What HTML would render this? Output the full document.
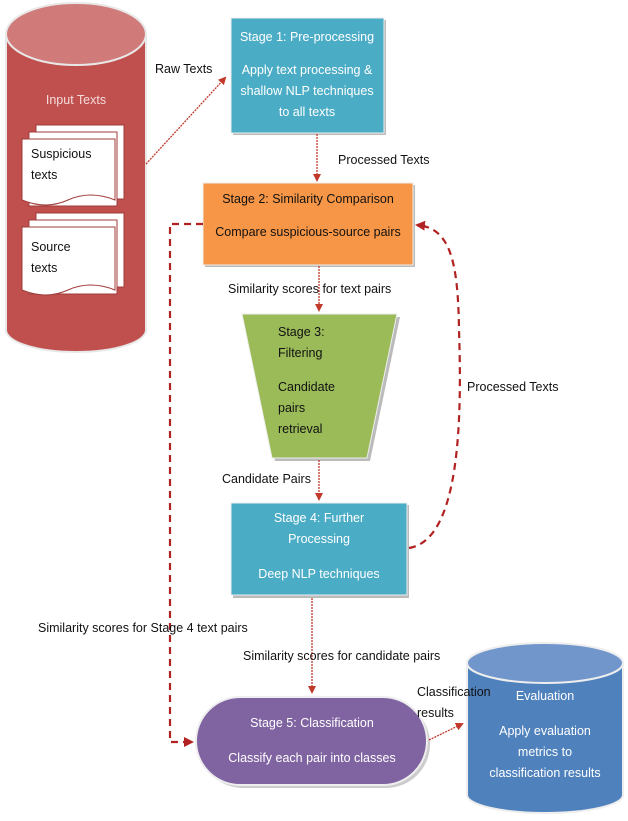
<!DOCTYPE html>
<html><head><meta charset="utf-8"><style>
body{margin:0;background:#fff}
svg text{font-family:"Liberation Sans",sans-serif;font-size:12.5px}
</style></head><body>
<svg width="628" height="816" viewBox="0 0 628 816" xmlns="http://www.w3.org/2000/svg">
<defs>
<marker id="a" markerWidth="8" markerHeight="8" refX="6" refY="4" orient="auto" markerUnits="userSpaceOnUse"><path d="M0,0 L8,4 L0,8 z" fill="#c0392b"/></marker>
<marker id="b" markerWidth="10" markerHeight="10" refX="8" refY="5" orient="auto" markerUnits="userSpaceOnUse"><path d="M0,0 L10,5 L0,10 z" fill="#b22222"/></marker>
</defs>
<path d="M6,34 L6,330 A70,22 0 0 0 146,330 L146,34 Z" fill="#c0504d" stroke="#e8e8e8" stroke-width="2"/>
<ellipse cx="76" cy="34" rx="70" ry="31" fill="#d07b7a" stroke="#e8e8e8" stroke-width="2"/>
<text x="76" y="104" fill="#f4dcdc" text-anchor="middle" font-size="13">Input Texts</text>
<g fill="#fff" stroke="#a03c3a" stroke-width="1">
<rect x="36" y="125" width="88" height="74"/>
<rect x="29" y="132" width="88" height="74"/>
<path d="M22,139 H115 V200 Q90,190 68,200 T22,200 Z"/>
<rect x="36" y="213" width="88" height="74"/>
<rect x="29" y="220" width="88" height="74"/>
<path d="M22,227 H115 V290 Q90,280 68,290 T22,290 Z"/>
</g>
<text x="31" y="158" fill="#111" font-size="13">Suspicious</text>
<text x="31" y="179" fill="#111" font-size="13">texts</text>
<text x="31" y="251" fill="#111" font-size="13">Source</text>
<text x="31" y="272" fill="#111" font-size="13">texts</text>
<rect x="233" y="20" width="153" height="115" fill="#bbb"/>
<rect x="231" y="18" width="153" height="115" fill="#4bacc6" stroke="#eee"/>
<g fill="#fff" text-anchor="middle"><text x="307" y="41">Stage 1: Pre-processing</text>
<text x="307" y="74">Apply text processing &amp;</text><text x="307" y="95">shallow NLP techniques</text><text x="307" y="116">to all texts</text></g>
<text x="155" y="73" fill="#111">Raw Texts</text>
<line x1="146" y1="164" x2="225" y2="78" stroke="#c0392b" stroke-width="1.3" stroke-dasharray="2,1" marker-end="url(#a)"/>
<rect x="205" y="185" width="210" height="82" fill="#bbb"/>
<rect x="203" y="183" width="210" height="82" fill="#f79646" stroke="#eee"/>
<g fill="#111" text-anchor="middle"><text x="308" y="203">Stage 2: Similarity Comparison</text><text x="308" y="236">Compare suspicious-source pairs</text></g>
<line x1="317" y1="134" x2="317" y2="180" stroke="#c0392b" stroke-width="1.3" stroke-dasharray="2,1" marker-end="url(#a)"/>
<text x="338" y="164" fill="#111">Processed Texts</text>
<path d="M245,317 L400,317 L370,461 L275,461 Z" fill="#bbb"/>
<path d="M242,314 L397,314 L367,458 L272,458 Z" fill="#9bbb59" stroke="#eee"/>
<g fill="#111"><text x="278" y="336">Stage 3:</text><text x="278" y="357">Filtering</text><text x="278" y="391">Candidate</text><text x="278" y="412">pairs</text><text x="278" y="433">retrieval</text></g>
<line x1="319" y1="266" x2="319" y2="310" stroke="#c0392b" stroke-width="1.3" stroke-dasharray="2,1" marker-end="url(#a)"/>
<text x="228" y="293" fill="#111">Similarity scores for text pairs</text>
<rect x="233" y="505" width="176" height="93" fill="#bbb"/>
<rect x="231" y="503" width="176" height="92" fill="#4bacc6" stroke="#eee"/>
<g fill="#fff" text-anchor="middle"><text x="319" y="522">Stage 4: Further</text><text x="319" y="543">Processing</text><text x="319" y="578">Deep NLP techniques</text></g>
<line x1="319" y1="460" x2="319" y2="499" stroke="#c0392b" stroke-width="1.3" stroke-dasharray="2,1" marker-end="url(#a)"/>
<text x="222" y="483" fill="#111">Candidate Pairs</text>
<path d="M409,548 C460,540 462,420 459,330 C458,260 450,228 417,225" fill="none" stroke="#b22222" stroke-width="2.2" stroke-dasharray="7,5" marker-end="url(#b)"/>
<text x="467" y="391" fill="#111">Processed Texts</text>
<path d="M203,224 H170 V742 H192" fill="none" stroke="#b22222" stroke-width="2.2" stroke-dasharray="7,5" marker-end="url(#b)"/>
<text x="38" y="632" fill="#111">Similarity scores for Stage 4 text pairs</text>
<rect x="199" y="700" width="231" height="88" rx="44" fill="#ccc"/>
<rect x="196" y="697" width="231" height="88" rx="44" fill="#8064a2" stroke="#eee" stroke-width="2"/>
<g fill="#fff" text-anchor="middle"><text x="312" y="727">Stage 5: Classification</text><text x="312" y="762">Classify each pair into classes</text></g>
<line x1="312" y1="598" x2="312" y2="692" stroke="#c0392b" stroke-width="1.3" stroke-dasharray="2,1" marker-end="url(#a)"/>
<text x="243" y="660" fill="#111">Similarity scores for candidate pairs</text>
<path d="M467,663 L467,795 A78,18 0 0 0 623,795 L623,663 Z" fill="#4f81bd" stroke="#eee" stroke-width="2"/>
<ellipse cx="545" cy="663" rx="78" ry="20" fill="#7096cc" stroke="#eee" stroke-width="2"/>
<g fill="#fff" text-anchor="middle"><text x="545" y="700">Evaluation</text><text x="545" y="735">Apply evaluation</text><text x="545" y="756">metrics to</text><text x="545" y="777">classification results</text></g>
<line x1="429" y1="740" x2="462" y2="724" stroke="#c0392b" stroke-width="1.3" stroke-dasharray="2,1" marker-end="url(#a)"/>
<text x="417" y="696" fill="#111">Classification</text>
<text x="417" y="717" fill="#111">results</text>
</svg>
</body></html>
